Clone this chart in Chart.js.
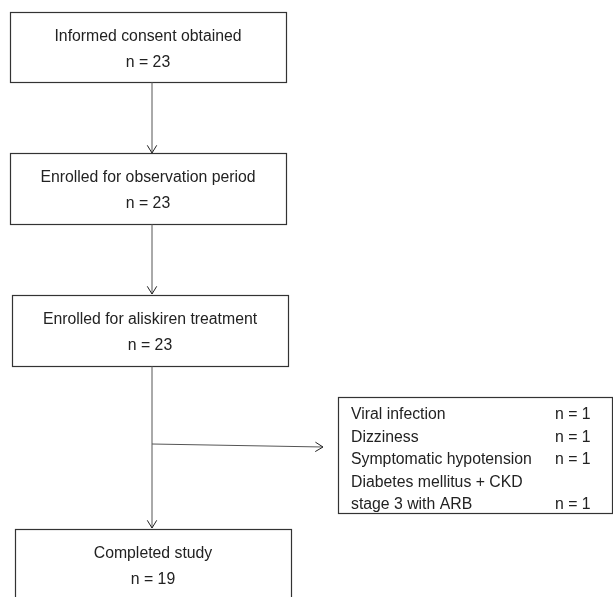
<!DOCTYPE html>
<html>
<head>
<meta charset="utf-8">
<script src="https://cdn.jsdelivr.net/npm/chart.js@4.4.0/dist/chart.umd.min.js"></script>
<style>
  body { margin: 0; background: #fff; }
  #wrap { width: 613px; height: 597px; }
</style>
</head>
<body>
<div id="wrap"><canvas id="myChart" width="613" height="597"></canvas></div>
<script>
// flow stages and counts
const stages = ['Informed consent obtained', 'Enrolled for observation period', 'Enrolled for aliskiren treatment', 'Completed study'];
const stageN = [23, 23, 23, 19];
// reasons for dropping out after aliskiren start
const reasons = [['Viral infection'], ['Dizziness'], ['Symptomatic hypotension'], ['Diabetes mellitus + CKD', 'stage 3 with ARB']];
const reasonN = [1, 1, 1, 1];

// layout in scale units (canvas is mapped 1:1 on hidden axes)
const boxes = [
  {x0: 10, x1: 286, y0: 12, y1: 82},
  {x0: 10, x1: 286, y0: 153, y1: 224},
  {x0: 12, x1: 288, y0: 295, y1: 366},
  {x0: 15, x1: 291, y0: 529, y1: 610}
];
const spineX = 152;
const sideBox = {x0: 338, x1: 612, y0: 397, y1: 513, rowTop: 415, rowGap: 22.5, textX: 351, nX: 555};
const branch = {x0: 152, y0: 444, x1: 323, y1: 447};

const font = '15.8px "Liberation Sans", Arial, sans-serif';

const flowPlugin = {
  id: 'flow',
  afterDraw(chart) {
    const c = chart.ctx;
    const sx = chart.scales.x, sy = chart.scales.y;
    const px = v => sx.getPixelForValue(v);
    const py = v => sy.getPixelForValue(v);

    function arrow(xa, ya, xb, yb) {
      c.save();
      c.strokeStyle = '#555';
      c.lineWidth = 1;
      c.beginPath();
      c.moveTo(px(xa), py(ya));
      c.lineTo(px(xb), py(yb));
      c.stroke();
      const ang = Math.atan2(py(yb) - py(ya), px(xb) - px(xa));
      const L = 9, W = 0.55;
      c.strokeStyle = '#222';
      c.beginPath();
      c.moveTo(px(xb) - L * Math.cos(ang - W), py(yb) - L * Math.sin(ang - W));
      c.lineTo(px(xb), py(yb));
      c.lineTo(px(xb) - L * Math.cos(ang + W), py(yb) - L * Math.sin(ang + W));
      c.stroke();
      c.restore();
    }

    c.save();
    c.font = font;
    c.fillStyle = '#222';
    c.textBaseline = 'middle';

    // main boxes
    boxes.forEach((b, i) => {
      c.strokeStyle = '#333';
      c.lineWidth = 1.2;
      c.strokeRect(px(b.x0) + 0.5, py(b.y0) + 0.5, px(b.x1) - px(b.x0), py(b.y1) - py(b.y0));
      const cx = (px(b.x0) + px(b.x1)) / 2;
      c.textAlign = 'center';
      c.fillText(stages[i], cx, py(b.y0) + 25);
      c.fillText('n = ' + stageN[i], cx, py(b.y0) + 51);
    });

    // side box with drop-outs
    const s = sideBox;
    c.strokeRect(px(s.x0) + 0.5, py(s.y0) + 0.5, px(s.x1) - px(s.x0), py(s.y1) - py(s.y0));
    let row = 0;
    reasons.forEach((r, i) => {
      r.forEach((line, j) => {
        const y = py(s.rowTop + s.rowGap * row);
        c.textAlign = 'left';
        c.fillText(line, px(s.textX), y);
        if (j === r.length - 1) c.fillText('n = ' + reasonN[i], px(s.nX), y);
        row++;
      });
    });
    c.restore();

    // connectors
    arrow(spineX, boxes[0].y1, spineX, boxes[1].y0);
    arrow(spineX, boxes[1].y1, spineX, boxes[2].y0 - 1);
    arrow(spineX, boxes[2].y1, spineX, boxes[3].y0 - 1);
    arrow(branch.x0, branch.y0, branch.x1, branch.y1);
  }
};

const ctx = document.getElementById('myChart').getContext('2d');
const myChart = new Chart(ctx, {
  type: 'scatter',
  data: {
    labels: stages,
    datasets: [{
      data: stageN.map((n, i) => ({x: spineX, y: (boxes[i].y0 + boxes[i].y1) / 2})),
      pointRadius: 0
    }]
  },
  options: {
    responsive: false,
    animation: false,
    layout: { padding: 0 },
    scales: {
      x: { type: 'linear', min: 0, max: 613, display: false },
      y: { type: 'linear', min: 0, max: 597, reverse: true, display: false }
    },
    plugins: {
      legend: { display: false },
      tooltip: { enabled: false }
    }
  },
  plugins: [flowPlugin]
});
</script>
</body>
</html>
